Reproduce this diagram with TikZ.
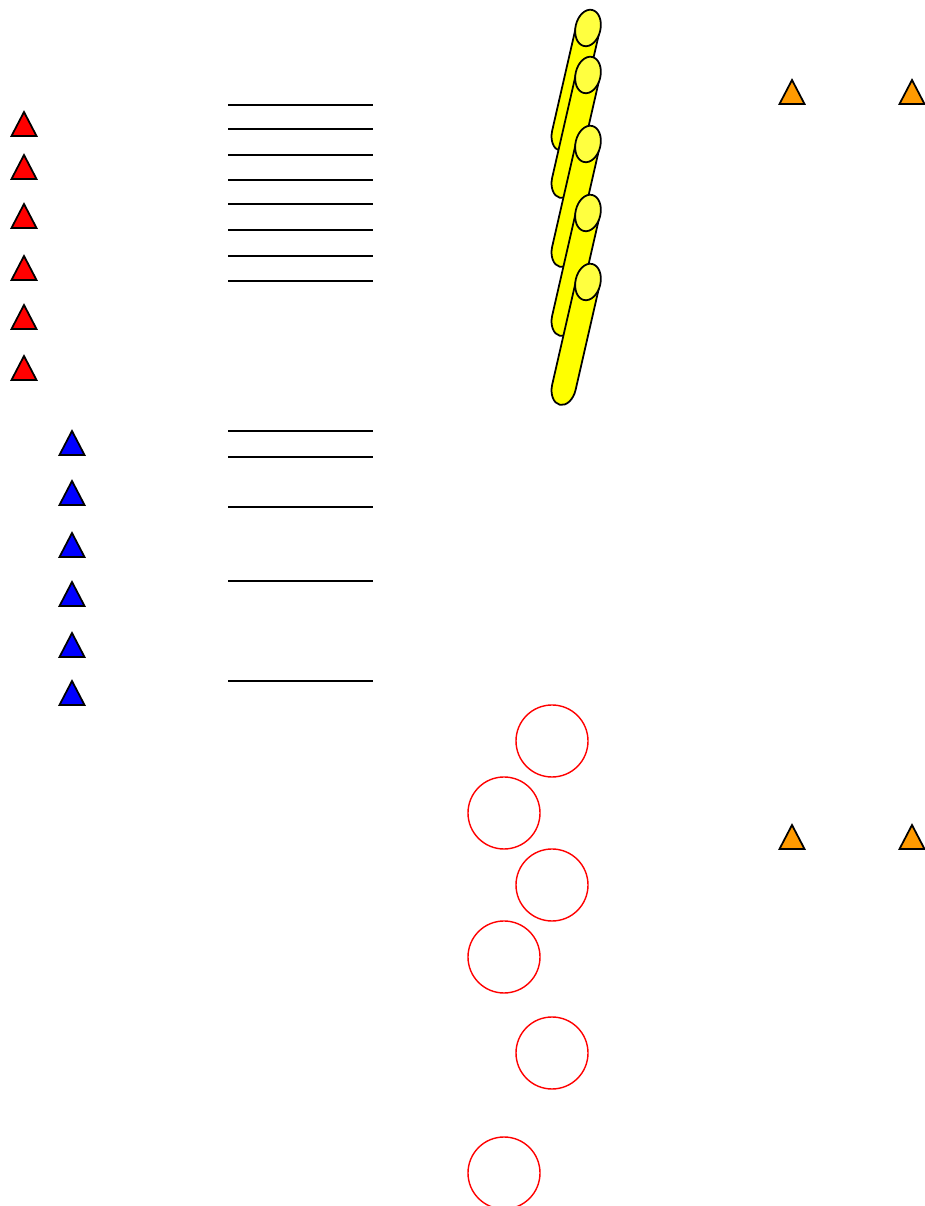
\documentclass[tikz,border=0pt]{standalone}
\usepackage{tikz}
\usetikzlibrary{calc}
\definecolor{trired}{HTML}{FF0000}
\definecolor{triblue}{HTML}{0000FF}
\definecolor{triorange}{HTML}{FF9A00}
\definecolor{bodyyellow}{HTML}{FFFF00}
\definecolor{capyellow}{HTML}{FFFF40}
\begin{document}
\begin{tikzpicture}[
  x=0.02cm,y=0.02cm,
  tri/.style={draw=black, line width=1pt, line join=miter},
  rtri/.style={tri, fill=trired},
  btri/.style={tri, fill=triblue},
  otri/.style={tri, fill=triorange},
  bar/.style={draw=black, line width=0.85pt},
  ring/.style={draw=red, line width=0.8pt},
  cylbody/.style={draw=black, fill=bodyyellow, line width=1pt, line join=round},
  cylcap/.style={draw=black, fill=capyellow, line width=1pt},
]
\useasboundingbox (0,0) rectangle (924,1206);
% left column of triangles
\foreach \y in {1070,1027,978,926,877,826} {\draw[rtri] (11.5,\y) -- (36.5,\y) -- (24,\y+24) -- cycle;}
\foreach \y in {751,701,649,600,549,501} {\draw[btri] (59.5,\y) -- (84.5,\y) -- (72,\y+24) -- cycle;}
% orange pairs on the right
\foreach \x/\y in {792/1102,912/1102,792/357,912/357} {\draw[otri] (\x-12.5,\y) -- (\x+12.5,\y) -- (\x,\y+24) -- cycle;}
% horizontal bars
\foreach \y in {1101,1077,1051,1026,1002,976,950,925,775,749,699,625,525} {\draw[bar] (228,\y) -- (373,\y);}
% stack of tilted cylinders
\foreach \t in {1178,1131,1062,993,924} {
  \begin{scope}[shift={(588,\t)},rotate=-12.9]
    \path[cylbody] (12,0) -- (12,-108) arc[start angle=0,end angle=-180,x radius=12,y radius=18] -- (-12,0);
    \draw[cylcap] (0,0) ellipse [x radius=12.5, y radius=18.5];
  \end{scope}
}
% rings
\foreach \x/\y in {552/465,504/393,552/321,504/249,552/153,504/33} {\draw[ring] (\x,\y) circle (36);}
\end{tikzpicture}
\end{document}
